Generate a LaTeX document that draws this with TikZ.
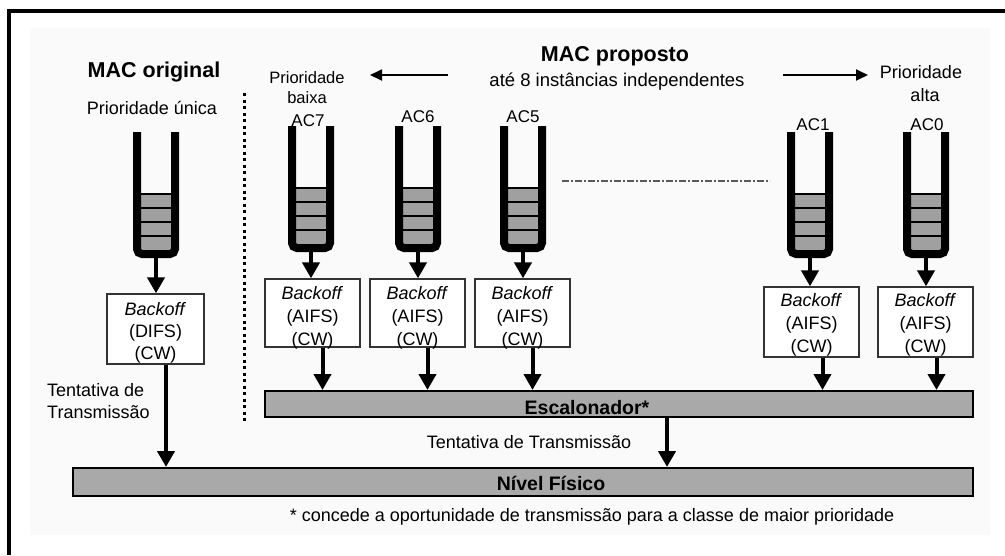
\documentclass[tikz,border=0pt]{standalone}
\usepackage{fontspec}
\setmainfont{Liberation Sans}
\usetikzlibrary{arrows.meta}
\definecolor{cellg}{HTML}{A0A0A0}
\definecolor{barg}{HTML}{A9A9A9}
\tikzset{
  txt/.style={inner sep=0pt, font=\fontsize{18}{22}\selectfont},
  actxt/.style={inner sep=0pt, font=\fontsize{17}{20}\selectfont},
  ttl/.style={inner sep=0pt, font=\bfseries\fontsize{21.5}{24}\selectfont},
  bartxt/.style={inner sep=0pt, font=\bfseries\fontsize{19.5}{22}\selectfont},
  boxtxt/.style={inner sep=0pt, align=center, font=\fontsize{18}{23}\selectfont},
  bo/.style={draw=black!80, line width=1.3pt, fill=white, inner sep=0pt},
  bar/.style={draw=black, line width=2pt, fill=barg, inner sep=0pt},
  arr/.style={line width=4pt, -{Triangle[length=16pt,width=17pt]}},
  thinarr/.style={line width=1.8pt, -{Triangle[length=12pt,width=11pt]}},
  queue/.pic={
    \fill[cellg] (-15,-8) rectangle (15,-64);
    \foreach \yy in {-64,-50,-36,-22} \draw[line width=2.5pt] (-15,\yy) -- (15,\yy);
    \draw[line width=8pt, rounded corners=5pt] (-19,-126) -- (-19,-4) -- (19,-4) -- (19,-126);
  }
}
\begin{document}
\begin{tikzpicture}[x=1pt,y=-1pt]
\useasboundingbox (0,0) rectangle (1005,555);
% frame and background
\fill[white] (0,0) rectangle (1005,555);
\fill[black!2] (30,28) rectangle (990,535);
\fill[black] (7,9) rectangle (1005,13);
\fill[black] (7,9) rectangle (11,555);

% titles
\node[ttl] (mo) at (154,72) {MAC original};
\node[txt] (pu) at (152,108) {Prioridade única};
\node[ttl] (mp) at (615,56) {MAC proposto};
\node[inner sep=0pt, font=\fontsize{18.5}{22}\selectfont] (ai) at (617,82) {até 8 instâncias independentes};
\node[inner sep=0pt, font=\fontsize{16.5}{20}\selectfont] (pb1) at (307,78) {Prioridade};
\node[inner sep=0pt, font=\fontsize{16.5}{20}\selectfont] (pb2) at (307,98) {baixa};
\node[txt] (pa1) at (921,72) {Prioridade};
\node[txt] (pa2) at (925,95) {alta};
\coordinate (la1) at (448,75);
\coordinate (la2) at (370,75);
\coordinate (ra1) at (783,75);
\coordinate (ra2) at (868,75);
\draw[thinarr] (la1) -- (la2);
\draw[thinarr] (ra1) -- (ra2);

% AC labels
\node[actxt] (l7) at (308,121) {AC7};
\node[actxt] (l6) at (418,117) {AC6};
\node[actxt] (l5) at (523,117) {AC5};
\node[actxt] (l1) at (813,125) {AC1};
\node[actxt] (l0) at (927,125) {AC0};

% separators
\draw[line width=3pt, dash pattern=on 3pt off 3.5pt] (244,93) -- (244,423);
\draw[line width=1.5pt, black!65, dash pattern=on 7pt off 2pt on 2pt off 2pt] (562,181) -- (770,181);

% queues
\pic at (156,258) {queue};
\pic at (311,252) {queue};
\pic at (418,252) {queue};
\pic at (523,252) {queue};
\pic at (810,258) {queue};
\pic at (926,258) {queue};
\coordinate (qo) at (156,258);
\coordinate (q7) at (311,252);
\coordinate (q6) at (418,252);
\coordinate (q5) at (523,252);
\coordinate (q1) at (810,258);
\coordinate (q0) at (926,258);

% boxes
\node[bo, minimum width=97pt, minimum height=70pt] (bo) at (155.5,329) {};
\node[bo, minimum width=95pt, minimum height=68pt] (b7) at (312.5,313) {};
\node[bo, minimum width=95pt, minimum height=68pt] (b6) at (417.5,313) {};
\node[bo, minimum width=95pt, minimum height=68pt] (b5) at (522.5,313) {};
\node[bo, minimum width=95pt, minimum height=70pt] (b1) at (811.5,322) {};
\node[bo, minimum width=95pt, minimum height=70pt] (b0) at (925.5,322) {};
\node[boxtxt, font=\fontsize{18}{22}\selectfont] (to) at ([yshift=-4pt]bo.center) {\textit{Backoff}\\(DIFS)\\(CW)};
\node[boxtxt] (t7) at ([yshift=-5pt]b7.center) {\textit{Backoff}\\(AIFS)\\(CW)};
\node[boxtxt] (t6) at ([yshift=-5pt]b6.center) {\textit{Backoff}\\(AIFS)\\(CW)};
\node[boxtxt] (t5) at ([yshift=-5pt]b5.center) {\textit{Backoff}\\(AIFS)\\(CW)};
\node[boxtxt] (t1) at ([yshift=-3pt]b1.center) {\textit{Backoff}\\(AIFS)\\(CW)};
\node[boxtxt] (t0) at ([yshift=-3pt]b0.center) {\textit{Backoff}\\(AIFS)\\(CW)};

% queue -> box arrows
\draw[arr] (qo) -- (qo |- bo.north);
\draw[arr] (q7) -- (q7 |- b7.north);
\draw[arr] (q6) -- (q6 |- b6.north);
\draw[arr] (q5) -- (q5 |- b5.north);
\draw[arr] (q1) -- (q1 |- b1.north);
\draw[arr] (q0) -- (q0 |- b0.north);

% bars
\node[bar, minimum width=708pt, minimum height=26pt] (esc) at (619,404) {};
\node[bar, minimum width=900pt, minimum height=28pt] (nf) at (523,482) {};
\node[bartxt] (esct) at (587,408) {Escalonador*};
\node[bartxt] (nft) at (551,483) {Nível Físico};

% box -> scheduler arrows
\draw[arr] ([xshift=10pt]b7.south) -- ([xshift=10pt]b7.south |- esc.north);
\draw[arr] ([xshift=10pt]b6.south) -- ([xshift=10pt]b6.south |- esc.north);
\draw[arr] ([xshift=10pt]b5.south) -- ([xshift=10pt]b5.south |- esc.north);
\draw[arr] ([xshift=11pt]b1.south) -- ([xshift=11pt]b1.south |- esc.north);
\draw[arr] ([xshift=11pt]b0.south) -- ([xshift=11pt]b0.south |- esc.north);
\draw[arr] ([xshift=10.5pt]bo.south) -- ([xshift=10.5pt]bo.south |- nf.north);
\coordinate (ed) at (667,417);
\draw[arr] (ed) -- (ed |- nf.north);

% labels
\node[txt, anchor=west, align=left] (tl) at (47,401) {Tentativa de\\Transmissão};
\node[txt] (tr) at (529,442) {Tentativa de Transmissão};
\node[txt] (fn) at (592,517) {* concede a oportunidade de transmissão para a classe de maior prioridade};
\end{tikzpicture}
\end{document}
